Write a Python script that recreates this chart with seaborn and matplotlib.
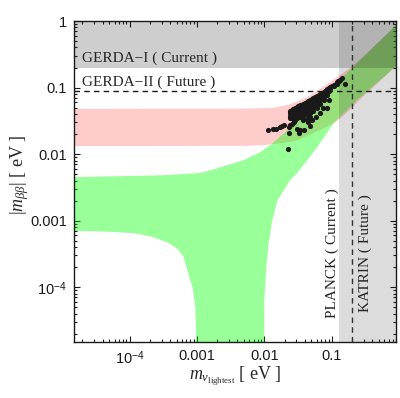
import numpy as np
import pandas as pd
import seaborn as sns
import matplotlib
matplotlib.use("Agg")
import matplotlib.pyplot as plt
from matplotlib.ticker import LogLocator, NullFormatter

# inverted hierarchy band (pink)
ih_x_up = [1.5e-5, 0.005, 0.01, 0.0136, 0.0243, 0.0434, 0.075, 0.134, 0.2, 0.3, 0.5, 0.9]
ih_y_up = [0.048, 0.0482, 0.049, 0.0497, 0.056, 0.072, 0.103, 0.155, 0.207, 0.30, 0.49, 0.86]
ih_x_lo = [1.5e-5, 0.005, 0.01, 0.0123, 0.02, 0.03, 0.045, 0.061, 0.08, 0.1, 0.134, 0.2, 0.3, 0.5, 0.9]
ih_y_lo = [0.0132, 0.0133, 0.0136, 0.014, 0.0148, 0.016, 0.019, 0.022, 0.025, 0.028, 0.034, 0.05, 0.075, 0.12, 0.21]

# normal hierarchy band (green)
nh_x_up = [1.5e-5, 3e-4, 1.13e-3, 0.002, 0.0049, 0.0087, 0.0123, 0.02, 0.03, 0.05, 0.1, 0.2, 0.5, 0.9]
nh_y_up = [0.0045, 0.0048, 0.0052, 0.0061, 0.0081, 0.0107, 0.0137, 0.021, 0.031, 0.051, 0.1, 0.195, 0.48, 0.86]
nh_x_lo_r = [0.9, 0.238, 0.107, 0.061, 0.0308, 0.0243, 0.0156, 0.0131, 0.0115, 0.0107, 0.01, 0.01]
nh_y_lo_r = [0.21, 0.065, 0.0293, 0.0127, 0.0052, 0.0041, 0.002, 0.001, 0.00043, 0.0002, 6.4e-5, 1e-6]
nh_x_lo_l = [1.02e-3, 9.5e-4, 8.6e-4, 7.2e-4, 6.3e-4, 5.1e-4, 3.7e-4, 2.05e-4, 1.15e-4, 3.7e-5, 1.5e-5]
nh_y_lo_l = [1e-6, 5e-5, 1.0e-4, 1.8e-4, 2.9e-4, 3.8e-4, 4.7e-4, 5.8e-4, 6.5e-4, 6.9e-4, 7.0e-4]

# experimental limits
gerda1 = 0.2
gerda2 = 0.09
planck = 0.13
katrin = 0.2

# scatter points (dense cluster)
cluster_x = [0.0240, 0.0240, 0.0240, 0.0240,
             0.0269, 0.0269, 0.0269, 0.0269, 0.0269,
             0.0302, 0.0302, 0.0302, 0.0302, 0.0302,
             0.0339, 0.0339, 0.0339, 0.0339, 0.0339,
             0.0380, 0.0380, 0.0380, 0.0380, 0.0380, 0.0380,
             0.0427, 0.0427, 0.0427, 0.0427, 0.0427, 0.0427,
             0.0479, 0.0479, 0.0479, 0.0479, 0.0479, 0.0479,
             0.0537, 0.0537, 0.0537, 0.0537, 0.0537,
             0.0603, 0.0603, 0.0603, 0.0603, 0.0603,
             0.0676, 0.0676, 0.0676, 0.0676,
             0.0759, 0.0759, 0.0759, 0.0759,
             0.0851, 0.0851, 0.0851,
             0.0955, 0.0955,
             0.107, 0.107,
             0.120, 0.120,
             0.132,
             0.0254, 0.0254, 0.0285, 0.0285, 0.0320, 0.0320, 0.0359, 0.0359,
             0.0403, 0.0403, 0.0452, 0.0452, 0.0507, 0.0507, 0.0569, 0.0569,
             0.0638, 0.0638, 0.0716, 0.0716, 0.0804, 0.0804, 0.0902, 0.0902,
             0.101, 0.114, 0.126]
cluster_y = [0.0445, 0.0410, 0.0372, 0.0345,
             0.0474, 0.0440, 0.0400, 0.0365, 0.0340,
             0.0505, 0.0465, 0.0425, 0.0385, 0.0350,
             0.0538, 0.0495, 0.0450, 0.0405, 0.0360,
             0.0573, 0.0525, 0.0475, 0.0425, 0.0375, 0.0330,
             0.0611, 0.0560, 0.0505, 0.0450, 0.0395, 0.0340,
             0.0655, 0.0600, 0.0540, 0.0480, 0.0420, 0.0360,
             0.0702, 0.0640, 0.0575, 0.0510, 0.0450,
             0.0752, 0.0685, 0.0615, 0.0545, 0.0485,
             0.0807, 0.0735, 0.0660, 0.0575,
             0.0867, 0.0790, 0.0715, 0.0655,
             0.0940, 0.0855, 0.0770,
             0.102, 0.0935,
             0.111, 0.104,
             0.120, 0.114,
             0.129,
             0.0460, 0.0425, 0.0490, 0.0455, 0.0520, 0.0480, 0.0555, 0.0510,
             0.0592, 0.0540, 0.0632, 0.0580, 0.0678, 0.0620, 0.0727, 0.0665,
             0.0779, 0.0710, 0.0836, 0.0760, 0.0902, 0.0820, 0.0978, 0.0900,
             0.106, 0.115, 0.124]

# scattered outliers
outlier_x = [0.0113, 0.0133, 0.0149, 0.0173, 0.0183, 0.0193, 0.0224, 0.0229, 0.0243, 0.0257,
             0.0236, 0.0305, 0.0322, 0.0341, 0.0383, 0.048, 0.051, 0.0676, 0.085, 0.092,
             0.129, 0.140, 0.155, 0.028, 0.029, 0.045, 0.058, 0.075]
outlier_y = [0.0229, 0.0238, 0.0236, 0.0252, 0.0263, 0.0273, 0.0120, 0.0210, 0.0273, 0.0282,
             0.0252, 0.0236, 0.0210, 0.0230, 0.0230, 0.0263, 0.0325, 0.0408, 0.049, 0.065,
             0.127, 0.137, 0.113, 0.0300, 0.0320, 0.0300, 0.036, 0.050]

pts = pd.DataFrame({"m": cluster_x + outlier_x, "mbb": cluster_y + outlier_y})

sns.set_theme(style="ticks")
plt.rcParams["font.family"] = ["Liberation Sans", "DejaVu Sans"]
plt.rcParams["mathtext.fontset"] = "custom"
plt.rcParams["mathtext.rm"] = "Liberation Serif"
plt.rcParams["mathtext.it"] = "Liberation Serif:italic"
plt.rcParams["mathtext.bf"] = "Liberation Serif:bold"
plt.rcParams["mathtext.sf"] = "Liberation Sans"

fig = plt.figure(figsize=(4, 3.98), dpi=100)
ax = fig.add_axes([0.185, 0.1407, 0.805, 0.8065])
ax.set_xscale("log")
ax.set_yscale("log")

ax.fill(ih_x_up + ih_x_lo[::-1], ih_y_up + ih_y_lo[::-1], color="red", alpha=0.2, lw=0, zorder=1)
ax.fill(nh_x_up + nh_x_lo_r + nh_x_lo_l, nh_y_up + nh_y_lo_r + nh_y_lo_l,
        color=(0, 1, 0), alpha=0.4, lw=0, zorder=2)

ax.axhspan(gerda1, 1, color="k", alpha=0.21, lw=0, zorder=3)
ax.axvspan(planck, 0.9, color="k", alpha=0.15, lw=0, zorder=3)

sns.scatterplot(data=pts, x="m", y="mbb", color="k", s=14, linewidth=0, alpha=1, ax=ax, zorder=4)

ax.axhline(gerda2, color="k", lw=1, ls=(0, (4, 3)), zorder=5)
ax.axvline(katrin, color="#333333", lw=1, ls=(0, (4, 3)), zorder=5)

serif = ["Liberation Serif", "DejaVu Serif"]
ax.text(1.95e-5, 0.24, "GERDA\u2212I ( Current )", family=serif, fontsize=11, va="baseline", zorder=6)
ax.text(1.95e-5, 0.105, "GERDA\u2212II ( Future )", family=serif, fontsize=11, va="baseline", zorder=6)
ax.text(0.102, 3.4e-5, "PLANCK ( Current )", family=serif, fontsize=11, rotation=90,
        ha="center", va="bottom", zorder=6)
ax.text(0.31, 4.2e-5, "KATRIN ( Future )", family=serif, fontsize=11, rotation=90,
        ha="center", va="bottom", zorder=6)

ax.set_xlim(1.5e-5, 0.9)
ax.set_ylim(1.5e-5, 1)

ax.set_xticks([1e-4, 1e-3, 1e-2, 1e-1])
ax.set_xticklabels([r"$\mathsf{10}^{\mathsf{-4}}$", "0.001", "0.01", "0.1"])
ax.set_yticks([1e-4, 1e-3, 1e-2, 1e-1, 1])
ax.set_yticklabels([r"$\mathsf{10}^{\mathsf{-4}}$", "0.001", "0.01", "0.1", "1"])
for axis in (ax.xaxis, ax.yaxis):
    axis.set_minor_locator(LogLocator(base=10, subs=np.arange(2, 10), numticks=20))
    axis.set_minor_formatter(NullFormatter())

ax.tick_params(which="both", direction="in", top=True, right=True, width=0.8, color="k")
ax.tick_params(which="major", length=4, labelsize=10.5, labelcolor="#1a1a1a", pad=5)
ax.tick_params(which="minor", length=2)
for sp in ax.spines.values():
    sp.set_color("k")
    sp.set_linewidth(1)

ax.set_xlabel(r"$m_{\nu_{\mathrm{lightest}}}$ [ eV ]", family=serif, fontsize=13)
ax.set_ylabel(r"$|m_{\beta\beta}|$ [ eV ]", family=serif, fontsize=13)
ax.xaxis.set_label_coords(0.5, -0.07)
ax.yaxis.set_label_coords(-0.135, 0.52)

fig.savefig("out.png", dpi=100)
